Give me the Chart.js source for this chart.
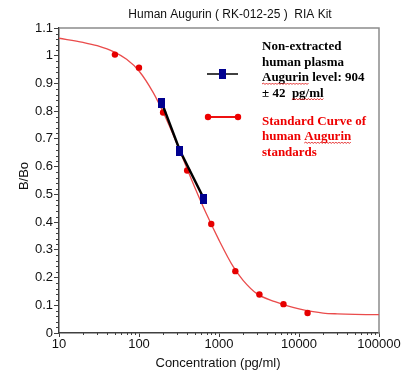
<!DOCTYPE html>
<html>
<head>
<meta charset="utf-8">
<script src="https://cdn.jsdelivr.net/npm/chart.js@4.4.1/dist/chart.umd.min.js"></script>
<style>
  html, body { margin: 0; padding: 0; background: #fff; }
  canvas { display: block; }
</style>
</head>
<body>
<canvas id="chart" width="404" height="389"></canvas>
<script>
// Standart eğri noktaları (pg/ml, B/Bo)
const stdConc = [50, 100, 200, 400, 800, 1600, 3200, 6400, 12800];
const stdBBo = [1.004, 0.957, 0.795, 0.586, 0.393, 0.223, 0.139, 0.104, 0.072];

// Plazma örnekleri
const sampleConc = [193, 324, 645];
const sampleBBo = [0.830, 0.658, 0.485];

// Uydurulmuş eğri
const curveConc = [10, 20, 30, 50, 70, 100, 150, 200, 300, 400, 500, 700, 1000, 1500, 2000, 3000, 5000, 7000, 10000, 15000, 20000, 30000, 50000, 100000];
const curveBBo = [1.063, 1.048, 1.036, 1.012, 0.987, 0.945, 0.868, 0.797, 0.681, 0.592, 0.524, 0.428, 0.335, 0.240, 0.190, 0.141, 0.113, 0.099, 0.087, 0.077, 0.072, 0.069, 0.067, 0.066];

const xTicks = [10, 100, 1000, 10000, 100000];
const yTicks = [0, 0.1, 0.2, 0.3, 0.4, 0.5, 0.6, 0.7, 0.8, 0.9, 1, 1.1];

const toXY = (xs, ys) => xs.map((x, i) => ({ x: x, y: ys[i] }));

// lacivert dikdörtgen işaret
const blueMark = document.createElement('canvas');
blueMark.width = 7;
blueMark.height = 10;
const bm = blueMark.getContext('2d');
bm.fillStyle = '#00008f';
bm.fillRect(0, 0, 7, 10);

const SANS = '"Liberation Sans", Arial, sans-serif';
const SERIF = '"Liberation Serif", "Times New Roman", serif';

function wavy(ctx, x1, x2, y) {
  ctx.save();
  ctx.strokeStyle = '#e00000';
  ctx.lineWidth = 0.8;
  ctx.beginPath();
  let up = true;
  ctx.moveTo(x1, y);
  for (let x = x1 + 1.5; x <= x2; x += 1.5) {
    ctx.lineTo(x, up ? y - 1 : y + 0.5);
    up = !up;
  }
  ctx.stroke();
  ctx.restore();
}

const decorPlugin = {
  id: 'decor',
  beforeDatasetsDraw(chart) {
    const ctx = chart.ctx;
    const a = chart.chartArea;
    const xs = chart.scales.x;
    const ys = chart.scales.y;

    // üst ve sağ çerçeve
    ctx.save();
    ctx.strokeStyle = '#8c8c8c';
    ctx.lineWidth = 1.5;
    ctx.beginPath();
    ctx.moveTo(a.left, a.top);
    ctx.lineTo(a.right, a.top);
    ctx.lineTo(a.right, a.bottom);
    ctx.stroke();

    // ara çentikler
    ctx.strokeStyle = '#404040';
    ctx.lineWidth = 1;
    ctx.beginPath();
    for (let i = 1; i < 55; i++) {
      if (i % 5 === 0) continue;
      const py = Math.round(ys.getPixelForValue(i * 0.02)) + 0.5;
      ctx.moveTo(a.left, py);
      ctx.lineTo(a.left - 3, py);
    }
    for (let d = 10; d < 100000; d *= 10) {
      for (let k = 2; k <= 9; k++) {
        const px = Math.round(xs.getPixelForValue(k * d)) + 0.5;
        ctx.moveTo(px, a.bottom);
        ctx.lineTo(px, a.bottom + 2);
      }
    }
    ctx.stroke();
    ctx.restore();
  },
  afterDraw(chart) {
    const ctx = chart.ctx;
    ctx.save();
    ctx.fillStyle = '#111';
    ctx.textAlign = 'center';
    ctx.textBaseline = 'alphabetic';

    ctx.font = '12px ' + SANS;
    ctx.fillText('Human Augurin ( RK-012-25 )  RIA Kit', 230, 18);

    ctx.font = '13px ' + SANS;
    ctx.fillText('Concentration (pg/ml)', 218, 367);

    ctx.save();
    ctx.translate(28, 176);
    ctx.rotate(-Math.PI / 2);
    ctx.fillText('B/Bo', 0, 0);
    ctx.restore();

    // açıklama: örnek
    ctx.strokeStyle = '#000';
    ctx.lineWidth = 1.5;
    ctx.beginPath();
    ctx.moveTo(207, 74);
    ctx.lineTo(238, 74);
    ctx.stroke();
    ctx.drawImage(blueMark, 219, 69);

    // açıklama: standart eğri
    ctx.strokeStyle = '#ee1111';
    ctx.lineWidth = 2;
    ctx.beginPath();
    ctx.moveTo(208, 117);
    ctx.lineTo(238, 117);
    ctx.stroke();
    ctx.fillStyle = '#ee0000';
    [208, 238].forEach(px => {
      ctx.beginPath();
      ctx.arc(px, 117, 3.2, 0, Math.PI * 2);
      ctx.fill();
    });

    ctx.textAlign = 'left';
    ctx.font = 'bold 13px ' + SERIF;
    const tx = 262;
    ctx.fillStyle = '#000';
    ctx.fillText('Non-extracted', tx, 50);
    ctx.fillText('human plasma', tx, 65.5);
    ctx.fillText('Augurin level: 904', tx, 81);
    ctx.fillText('± 42  pg/ml', tx, 96.5);
    wavy(ctx, tx, tx + ctx.measureText('Augurin').width, 84);
    const pgx = tx + ctx.measureText('± 42  ').width;
    wavy(ctx, pgx, pgx + ctx.measureText('pg/ml').width, 99.5);

    ctx.fillStyle = '#ee0000';
    ctx.fillText('Standard Curve of', tx, 124.5);
    ctx.fillText('human Augurin', tx, 140);
    ctx.fillText('standards', tx, 155.5);
    const ax = tx + ctx.measureText('human ').width;
    wavy(ctx, ax, ax + ctx.measureText('Augurin').width, 143);
    ctx.restore();
  }
};

new Chart(document.getElementById('chart'), {
  type: 'scatter',
  data: {
    datasets: [
      {
        label: 'Non-extracted human plasma',
        data: toXY(sampleConc, sampleBBo),
        showLine: true,
        borderColor: '#000',
        borderWidth: 2.5,
        pointStyle: blueMark,
        pointRadius: 5,
        tension: 0
      },
      {
        label: 'Standards',
        data: toXY(stdConc, stdBBo),
        showLine: false,
        pointRadius: 3.2,
        pointBackgroundColor: '#e60000',
        pointBorderWidth: 0
      },
      {
        label: 'Standard Curve',
        data: toXY(curveConc, curveBBo),
        showLine: true,
        borderColor: '#ea4b4b',
        borderWidth: 1.3,
        pointRadius: 0,
        cubicInterpolationMode: 'monotone'
      }
    ]
  },
  options: {
    responsive: false,
    animation: false,
    devicePixelRatio: 1,
    layout: {
      padding: { left: 0, right: 25, top: 28, bottom: 0 }
    },
    plugins: {
      legend: { display: false },
      title: { display: false },
      tooltip: { enabled: false }
    },
    scales: {
      x: {
        type: 'logarithmic',
        min: 10,
        max: 100000,
        afterFit: s => { s.height = 56; },
        afterBuildTicks: s => { s.ticks = xTicks.map(v => ({ value: v })); },
        grid: {
          drawOnChartArea: false,
          tickLength: 4,
          tickColor: '#404040'
        },
        border: { color: '#404040', width: 1.5 },
        ticks: {
          padding: 0,
          autoSkip: false,
          maxRotation: 0,
          color: '#111',
          font: { family: SANS, size: 13 },
          callback: v => String(v)
        }
      },
      y: {
        min: 0,
        max: 1.1,
        afterFit: s => { s.width = 59; },
        afterBuildTicks: s => { s.ticks = yTicks.map(v => ({ value: v })); },
        grid: {
          drawOnChartArea: false,
          tickLength: 5,
          tickColor: '#404040'
        },
        border: { color: '#404040', width: 1.5 },
        ticks: {
          padding: 1,
          color: '#111',
          font: { family: SANS, size: 13 },
          callback: v => String(Number(v.toFixed(1)))
        }
      }
    }
  },
  plugins: [decorPlugin]
});
</script>
</body>
</html>
